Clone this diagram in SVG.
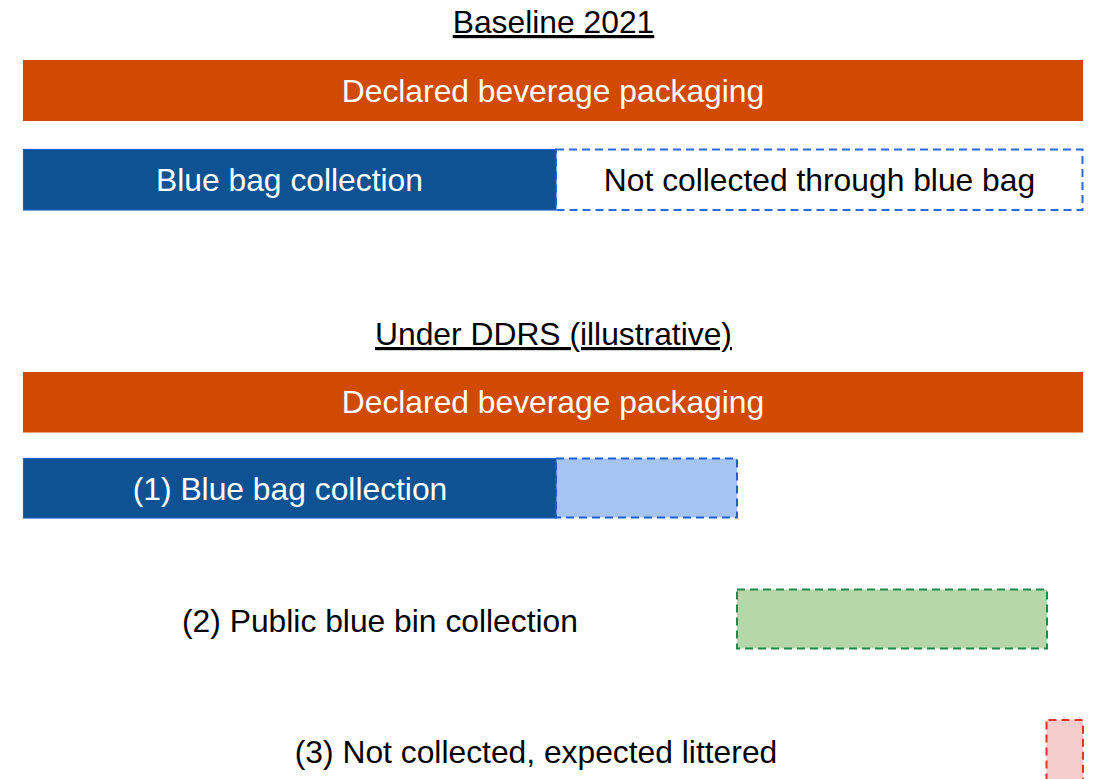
<svg xmlns="http://www.w3.org/2000/svg" width="1097" height="779" viewBox="0 0 1097 779">
<style>
text{font-family:"Liberation Sans",Arial,sans-serif;font-size:31.8px;text-anchor:middle}
.t{fill:#000}
.w{fill:#fff}
.title{text-decoration:underline}
.orange{fill:#D04A02}
.blue{fill:#0E5293;stroke:#1F5FCC;stroke-width:1.2}
.dash{stroke-width:2;stroke-dasharray:8 5}
.dblue{fill:#fff;stroke:#2B6BDB}
.lblue{fill:#A6C4F2;stroke:#1D5FD6}
.green{fill:#B6D7A8;stroke:#1E8A4A}
.red{fill:#F4CCCC;stroke:#E0352A}
</style>
<rect width="1097" height="779" fill="#fff"/>
<g id="title-baseline"><text class="t title" x="553.5" y="33">Baseline 2021</text></g>
<g id="declared-1"><rect class="orange" x="23" y="60" width="1060" height="61"/><text class="w" x="553" y="101.5">Declared beverage packaging</text></g>
<g id="not-collected-1"><rect class="dblue dash" x="556" y="149.5" width="526.5" height="60.5"/><text class="t" x="819.5" y="191">Not collected through blue bag</text></g>
<g id="bluebag-1"><rect class="blue" x="23.5" y="149.5" width="532.5" height="60.5"/><text class="w" x="289.5" y="191">Blue bag collection</text></g>
<g id="title-ddrs"><text class="t title" x="553.5" y="345">Under DDRS (illustrative)</text></g>
<g id="declared-2"><rect class="orange" x="23" y="372" width="1060" height="60.5"/><text class="w" x="553" y="413">Declared beverage packaging</text></g>
<g id="bluebag-extra"><rect class="lblue dash" x="556" y="458.5" width="181" height="59"/></g>
<g id="bluebag-2"><rect class="blue" x="23.5" y="458.5" width="532.5" height="59.5"/><text class="w" x="290" y="500">(1) Blue bag collection</text></g>
<g id="public-bin"><text class="t" x="380" y="631.5">(2) Public blue bin collection</text><rect class="green dash" x="737" y="589.5" width="310" height="59"/></g>
<g id="littered"><text class="t" x="536" y="763">(3) Not collected, expected littered</text><rect class="red dash" x="1046.5" y="720" width="36.5" height="62" rx="2"/></g>
<g id="connectors"></g>
</svg>
